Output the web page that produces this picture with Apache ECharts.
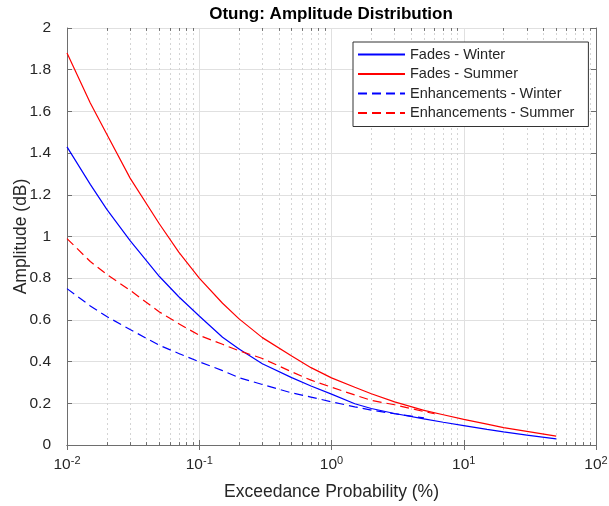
<!DOCTYPE html>
<html><head><meta charset="utf-8">
<script src="https://cdn.jsdelivr.net/npm/echarts@6/dist/echarts.min.js"></script>
<style>html,body{margin:0;padding:0;background:#fff}#c{width:609px;height:506px}</style>
</head><body><div id="c"></div>
<script>
// ---- data ----
const xFades       = [0.01, 0.015, 0.02, 0.03, 0.05, 0.07, 0.1, 0.15, 0.2, 0.3, 0.5, 0.7, 1, 1.5, 2, 3, 5, 7, 10, 15, 20, 30, 50];
const fadesWinter  = [1.43, 1.25, 1.13, 0.98, 0.808, 0.711, 0.619, 0.517, 0.46, 0.39, 0.323, 0.283, 0.244, 0.198, 0.175, 0.151, 0.125, 0.109, 0.093, 0.075, 0.063, 0.0475, 0.029];
const fadesSummer  = [1.88, 1.64, 1.49, 1.28, 1.06, 0.925, 0.80, 0.68, 0.605, 0.515, 0.427, 0.371, 0.322, 0.277, 0.246, 0.207, 0.166, 0.145, 0.123, 0.10, 0.083, 0.065, 0.043];
const xEnhWinter   = [0.01, 0.015, 0.02, 0.03, 0.05, 0.07, 0.1, 0.15, 0.2, 0.3, 0.5, 0.7, 1, 1.5, 2, 3, 5];
const enhWinter    = [0.75, 0.667, 0.616, 0.554, 0.478, 0.439, 0.399, 0.357, 0.323, 0.29, 0.25, 0.23, 0.207, 0.183, 0.167, 0.150, 0.13];
const xEnhSummer   = [0.01, 0.015, 0.02, 0.03, 0.05, 0.07, 0.1, 0.15, 0.2, 0.3, 0.5, 0.7, 1, 1.5, 2, 3, 5, 6];
const enhSummer    = [0.99, 0.88, 0.818, 0.742, 0.638, 0.582, 0.526, 0.483, 0.452, 0.415, 0.351, 0.311, 0.277, 0.24, 0.214, 0.193, 0.1605, 0.15];
const seriesNames  = ['Fades - Winter', 'Fades - Summer', 'Enhancements - Winter', 'Enhancements - Summer'];
const minorX       = [];
[-2, -1, 0, 1].forEach(function (d) { for (let m = 2; m <= 9; m++) minorX.push(+(m * Math.pow(10, d)).toPrecision(3)); });

const FONT = 'Liberation Sans, Arial, Helvetica, sans-serif';
const TXT = '#262626';
const AX = '#6e6e6e';

function zip(xs, ys) { return xs.map(function (x, i) { return [x, ys[i]]; }); }

const minorLines = [];
minorX.forEach(function (v) {
  minorLines.push({ xAxis: v, lineStyle: { type: [2, 3], color: '#d4d4d4', width: 1 } });
  minorLines.push([{ coord: [v, 0], lineStyle: { type: 'solid', color: AX, width: 1 } }, { coord: [v, 0.014] }]);
  minorLines.push([{ coord: [v, 2], lineStyle: { type: 'solid', color: AX, width: 1 } }, { coord: [v, 1.986] }]);
});

const chart = echarts.init(document.getElementById('c'), null, { renderer: 'canvas' });
const axisCommonX = {
  type: 'log', logBase: 10, min: 0.01, max: 100,
  axisLine: { show: true, lineStyle: { color: AX, width: 1 } },
  axisTick: { show: true, inside: true, length: 5, lineStyle: { color: AX } },
  minorTick: { show: false }
};
function lineSeries(name, xs, ys, color, dash) {
  return {
    name: name, type: 'line', data: zip(xs, ys), symbol: 'none', showSymbol: false,
    smooth: false, z: 3,
    lineStyle: { color: color, width: 1.2, type: dash },
    itemStyle: { color: color }
  };
}
const s0 = lineSeries(seriesNames[0], xFades, fadesWinter, '#0000ff', 'solid');
s0.markLine = { silent: true, symbol: 'none', label: { show: false }, animation: false, z: 1, data: minorLines };
const option = {
  animation: false,
  backgroundColor: '#fff',
  title: {
    text: 'Otung: Amplitude Distribution', left: 326, top: 1, textAlign: 'center',
    textStyle: { fontFamily: FONT, fontSize: 17, fontWeight: 'bold', color: '#000' }
  },
  grid: { left: 67, right: 13, top: 28, bottom: 61, containLabel: false, outerBoundsMode: 'none' },
  legend: {
    orient: 'vertical', left: 353, top: 42, data: seriesNames, z: 50, zlevel: 1,
    itemWidth: 47, itemHeight: 14, itemGap: 4.5,
    padding: [5, 14, 6, 4],
    itemStyle: { opacity: 0, borderWidth: 0 },
    backgroundColor: '#fff', borderColor: '#333', borderWidth: 1,
    textStyle: { fontFamily: FONT, fontSize: 14.5, color: TXT }
  },
  xAxis: [
    Object.assign({}, axisCommonX, {
      position: 'bottom',
      splitLine: { show: true, lineStyle: { color: '#e0e0e0', width: 1 } },
      axisLabel: {
        margin: 10, color: TXT, fontFamily: FONT, fontSize: 15.5,
        formatter: function (v) { return '10{sup|' + Math.round(Math.log10(v)) + '}'; },
        rich: { sup: { fontSize: 11, fontFamily: FONT, color: TXT, verticalAlign: 'top', padding: [0, 0, 9, 0] } }
      },
      name: 'Exceedance Probability (%)', nameLocation: 'middle', nameGap: 38,
      nameTextStyle: { fontFamily: FONT, fontSize: 17.5, color: TXT }
    }),
    Object.assign({}, axisCommonX, {
      position: 'top', axisLabel: { show: false }, splitLine: { show: false }
    })
  ],
  yAxis: [
    {
      type: 'value', min: 0, max: 2, interval: 0.2, position: 'left',
      axisLine: { show: true, lineStyle: { color: AX, width: 1 } },
      axisTick: { show: true, inside: true, length: 5, lineStyle: { color: AX } },
      splitLine: { show: true, lineStyle: { color: '#e0e0e0', width: 1 } },
      axisLabel: { margin: 16, color: TXT, fontFamily: FONT, fontSize: 15.5 },
      name: 'Amplitude (dB)', nameLocation: 'middle', nameGap: 37, nameMoveOverlap: false,
      nameTextStyle: { fontFamily: FONT, fontSize: 17.5, color: TXT }
    },
    {
      type: 'value', min: 0, max: 2, interval: 0.2, position: 'right',
      axisLine: { show: true, lineStyle: { color: AX, width: 1 } },
      axisTick: { show: true, inside: true, length: 5, lineStyle: { color: AX } },
      splitLine: { show: false }, axisLabel: { show: false }
    }
  ],
  series: [
    s0,
    lineSeries(seriesNames[1], xFades, fadesSummer, '#ff0000', 'solid'),
    lineSeries(seriesNames[2], xEnhWinter, enhWinter, '#0000ff', [9, 5]),
    lineSeries(seriesNames[3], xEnhSummer, enhSummer, '#ff0000', [9, 5])
  ]
};
chart.setOption(option);
</script>
</body></html>
